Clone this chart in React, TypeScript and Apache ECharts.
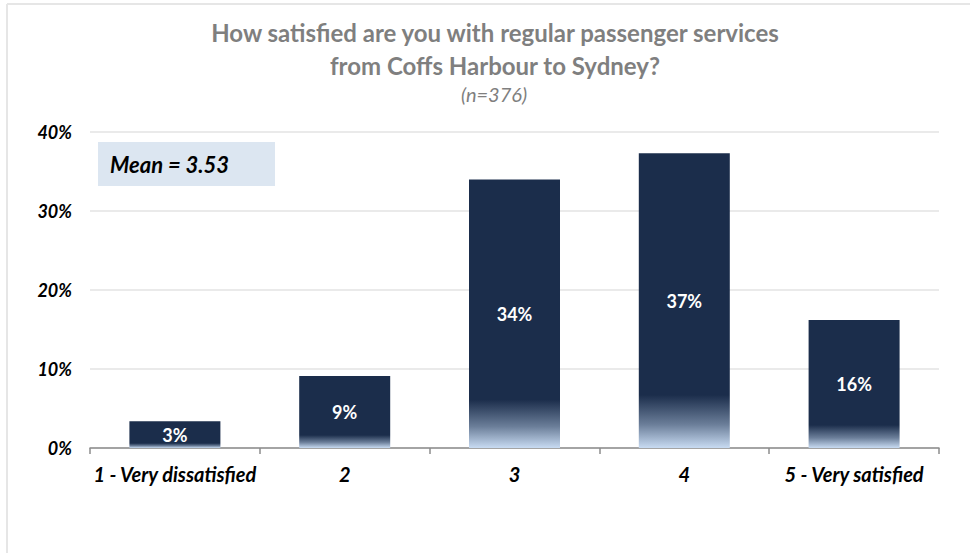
import React, { useEffect, useRef } from "react";
import * as echarts from "echarts";

const categories = ["1 - Very dissatisfied", "2", "3", "4", "5 - Very satisfied"];
const values = [3.4, 9.1, 34.0, 37.3, 16.2];
const yTicks = [0, 10, 20, 30, 40];
const titleLines = ["How satisfied are you with regular passenger services", "from Coffs Harbour to Sydney?"];
const subtitle = "(n=376)";
const meanText = "Mean = 3.53";

const FONT = "Lato, 'Open Sans', 'Liberation Sans', sans-serif";

export default function App() {
  const ref = useRef<HTMLDivElement>(null);
  useEffect(() => {
    if (!ref.current) return;
    const chart = echarts.init(ref.current, null, { renderer: "svg" });
    const barGradient = new echarts.graphic.LinearGradient(0, 0, 0, 1, [
      { offset: 0, color: "#1b2d4b" },
      { offset: 0.82, color: "#1b2d4b" },
      { offset: 0.92, color: "#6b7e99" },
      { offset: 1, color: "#c8dbf2" },
    ]);
    const titleStyle = {
      fontFamily: FONT,
      fontWeight: "bold",
      fontSize: 24,
      fill: "#7f7f7f",
      align: "center",
      verticalAlign: "middle",
    };
    chart.setOption({
      animation: false,
      backgroundColor: "#ffffff",
      grid: { left: 90, right: 31, top: 132, bottom: 105, containLabel: false },
      xAxis: {
        type: "category",
        data: categories,
        axisLine: { show: true, lineStyle: { color: "#8c8c8c", width: 1.5 } },
        axisTick: { show: true, length: 6, lineStyle: { color: "#8c8c8c", width: 1.5 } },
        axisLabel: {
          margin: 16,
          fontFamily: FONT,
          fontWeight: "bold",
          fontStyle: "italic",
          fontSize: 20,
          color: "#000000",
          interval: 0,
        },
      },
      yAxis: {
        type: "value",
        min: yTicks[0],
        max: yTicks[yTicks.length - 1],
        interval: 10,
        axisLine: { show: false },
        axisTick: { show: false },
        splitLine: { show: true, lineStyle: { color: "#e3e3e3", width: 1.5 } },
        axisLabel: {
          margin: 18,
          formatter: (v: number) => v + "%",
          fontFamily: FONT,
          fontWeight: "bold",
          fontStyle: "italic",
          fontSize: 18,
          color: "#000000",
        },
      },
      series: [
        {
          type: "bar",
          data: values,
          barWidth: 91,
          itemStyle: { color: barGradient },
          label: {
            show: true,
            position: "inside",
            formatter: (p: any) => Math.round(p.value) + "%",
            fontFamily: FONT,
            fontWeight: "bold",
            fontSize: 18,
            color: "#ffffff",
          },
        },
      ],
      graphic: [
        {
          type: "line",
          shape: { x1: 7, y1: 4, x2: 970, y2: 4 },
          style: { stroke: "#e6e6e6", lineWidth: 2 },
          silent: true,
        },
        {
          type: "line",
          shape: { x1: 7, y1: 4, x2: 7, y2: 553 },
          style: { stroke: "#e6e6e6", lineWidth: 2 },
          silent: true,
        },
        {
          type: "text",
          x: 495,
          y: 32,
          style: { ...titleStyle, text: titleLines[0] },
          silent: true,
        },
        {
          type: "text",
          x: 495,
          y: 65,
          style: { ...titleStyle, text: titleLines[1] },
          silent: true,
        },
        {
          type: "text",
          x: 494,
          y: 94,
          style: {
            text: subtitle,
            fontFamily: FONT,
            fontStyle: "italic",
            fontWeight: "normal",
            fontSize: 20,
            fill: "#7f7f7f",
            align: "center",
            verticalAlign: "middle",
          },
          silent: true,
        },
        {
          type: "rect",
          shape: { x: 98, y: 142, width: 177, height: 44 },
          style: { fill: "#dce6f1" },
          silent: true,
        },
        {
          type: "text",
          x: 110,
          y: 164,
          style: {
            text: meanText,
            fontFamily: FONT,
            fontWeight: "bold",
            fontStyle: "italic",
            fontSize: 22,
            fill: "#000000",
            verticalAlign: "middle",
          },
          silent: true,
        },
      ],
    });
    return () => chart.dispose();
  }, []);
  return (
    <div
      ref={ref}
      style={{ position: "absolute", left: 0, top: 0, width: 970, height: 553 }}
    />
  );
}
